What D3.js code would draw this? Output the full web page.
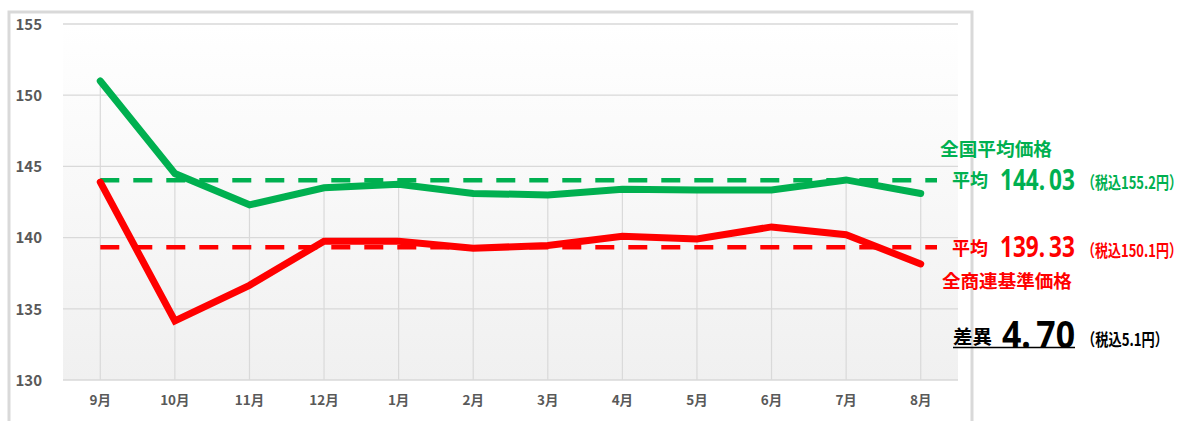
<!DOCTYPE html>
<html><head><meta charset="utf-8">
<script src="https://cdn.jsdelivr.net/npm/d3@7"></script>
<style>html,body{margin:0;padding:0;background:#fff;}svg{display:block;}</style>
</head><body>
<script>
const months = ["9月","10月","11月","12月","1月","2月","3月","4月","5月","6月","7月","8月"];
const nationalAvg = [151.0,144.5,142.3,143.5,143.75,143.1,143.0,143.4,143.35,143.35,144.05,143.1];
const standardPrice = [143.9,134.15,136.65,139.75,139.75,139.25,139.45,140.1,139.9,140.75,140.2,138.15];
const nationalMean = 144.03;
const standardMean = 139.33;
const yTicks = [130,135,140,145,150,155];
const labelNational = {title:"全国平均価格", pre:"平均", value:"144.03", tax:"（税込155.2円）"};
const labelStandard = {title:"全商連基準価格", pre:"平均", value:"139.33", tax:"（税込150.1円）"};
const labelDiff = {pre:"差異", value:"4.70", tax:"（税込5.1円）"};

const W=1187,H=421;
const svg=d3.select("body").append("svg").attr("width",W).attr("height",H);
const green="#00b050", red="#ff0000", axisGray="#595959", grid="#d9d9d9";
const font="'Noto Sans CJK JP','Noto Sans',sans-serif";
const numFont="'Noto Sans','Noto Sans CJK JP',sans-serif";

const x=d3.scaleBand().domain(months).range([63,958]);
const y=d3.scaleLinear().domain([130,155]).range([380,24]);
const cx=m=>x(m)+x.bandwidth()/2;

// outer border
svg.append("path").attr("d",`M9,${H+5} L9,12 L972,12 L972,${H+5}`)
  .attr("fill","none").attr("stroke",grid).attr("stroke-width",3);

const defs=svg.append("defs");
const lg=defs.append("linearGradient").attr("id","bg").attr("x1",0).attr("y1",0).attr("x2",0).attr("y2",1);
lg.append("stop").attr("offset","0%").attr("stop-color","#ffffff");
lg.append("stop").attr("offset","100%").attr("stop-color","#f0f0f0");
svg.append("rect").attr("x",63).attr("y",y(155)).attr("width",958-63).attr("height",y(130)-y(155)).attr("fill","url(#bg)");

// horizontal gridlines
svg.append("g").selectAll("line").data(yTicks).join("line")
  .attr("x1",63).attr("x2",958).attr("y1",d=>y(d)).attr("y2",d=>y(d))
  .attr("stroke",grid).attr("stroke-width",1.3);
// drop lines
svg.append("g").selectAll("line").data(months).join("line")
  .attr("x1",cx).attr("x2",cx)
  .attr("y1",(m,i)=>y(Math.max(nationalAvg[i],standardPrice[i])))
  .attr("y2",y(130)).attr("stroke",grid).attr("stroke-width",1.2);

// y axis labels
const yAxis=d3.axisLeft(y).tickValues(yTicks).tickSize(0).tickPadding(0);
const ya=svg.append("g").attr("transform","translate(42,0)").call(yAxis);
ya.select(".domain").remove();
ya.selectAll("text").attr("font-family",font).attr("font-weight","bold").attr("font-size",15).attr("fill",axisGray).attr("dy","0.35em");

// x axis labels
const xAxis=d3.axisBottom(x).tickSize(0).tickPadding(0);
const xa=svg.append("g").attr("transform","translate(0,395)").call(xAxis);
xa.select(".domain").remove();
xa.selectAll("text").attr("font-family",font).attr("font-weight","bold").attr("font-size",13.5).attr("fill",axisGray).attr("dy","0.75em");

// mean dashed lines
const meanLines=[{v:nationalMean,c:green},{v:standardMean,c:red}];
svg.append("g").selectAll("line").data(meanLines).join("line")
  .attr("x1",cx(months[0])).attr("x2",937).attr("y1",d=>y(d.v)).attr("y2",d=>y(d.v))
  .attr("stroke",d=>d.c).attr("stroke-width",4.5).attr("stroke-dasharray","19,14");

// series lines
const line=d3.line().x((d,i)=>cx(months[i])).y(d=>y(d));
[[standardPrice,red],[nationalAvg,green]].forEach(([data,c])=>{
  svg.append("path").datum(data).attr("d",line).attr("fill","none")
    .attr("stroke",c).attr("stroke-width",7).attr("stroke-linejoin","miter").attr("stroke-linecap","round");
});

// annotations: text fitted horizontally to a target width via scale transform
function fit(s,xp,yp,size,color,target,gapAfterDot=0,ff=font){
  const g=svg.append("g");
  const t=g.append("text").attr("x",0).attr("y",0).attr("font-family",ff).attr("font-weight","bold")
    .attr("font-size",size).attr("fill",color).attr("dominant-baseline","central");
  if(gapAfterDot){
    const k=s.indexOf(".");
    t.append("tspan").text(s.slice(0,k+1));
    t.append("tspan").attr("dx",gapAfterDot).text(s.slice(k+1));
  } else t.text(s);
  const w=t.node().getBBox().width;
  const sx=target?target/w:1;
  g.attr("transform",`translate(${xp},${yp}) scale(${sx},1)`);
  return g;
}
fit(labelNational.title,940,148,18,green,112);
fit(labelNational.pre,952,179,18,green,36);
fit(labelNational.value,1000,179,28,green,75,5,numFont);
fit(labelNational.tax,1082,181,17,green,100);

fit(labelStandard.pre,952,247,18,red,36);
fit(labelStandard.value,1000,246,28,red,75,5,numFont);
fit(labelStandard.tax,1082,249,17,red,100);
fit(labelStandard.title,942,280,18,red,130);

fit(labelDiff.pre,953,336,19,"#000",39);
fit(labelDiff.value,1002,333,37,"#000",73,6,numFont);
fit(labelDiff.tax,1082,338,17,"#000",86);
svg.append("line").attr("x1",953).attr("x2",1075).attr("y1",347.5).attr("y2",347.5).attr("stroke","#000").attr("stroke-width",1.5);
</script>
</body></html>
